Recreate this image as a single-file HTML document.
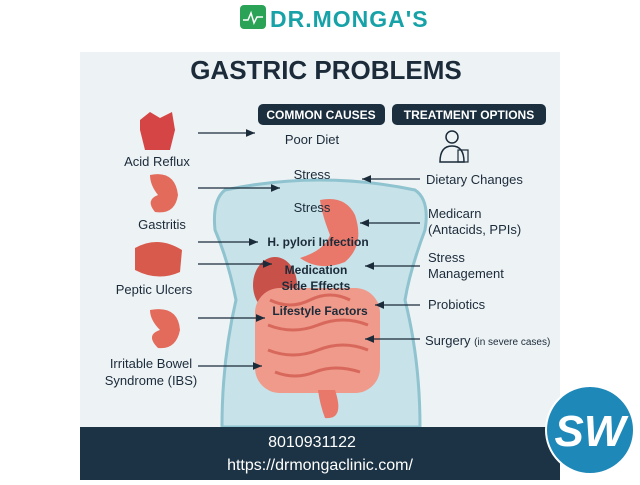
<!DOCTYPE html>
<html><head><meta charset="utf-8"><style>
body{margin:0;width:640px;height:480px;background:#fff;overflow:hidden;font-family:"Liberation Sans",sans-serif}
</style></head><body>
<svg width="640" height="480" xmlns="http://www.w3.org/2000/svg" font-family="Liberation Sans, sans-serif">
<defs><marker id="a" markerWidth="8" markerHeight="8" refX="7" refY="4" orient="auto"><path d="M0,1 L7,4 L0,7z" fill="#1b2b3a"/></marker></defs>
<rect x="240" y="5" width="26" height="24" rx="4" fill="#2aa356"/>
<path d="M243,20 l5,0 l3,-7 l3,10 l3,-6 l6,0" stroke="#fff" stroke-width="1.5" fill="none"/>
<text x="270" y="27" font-size="23" font-weight="bold" fill="#17a2a8" letter-spacing="1">DR.MONGA'S</text>
<rect x="80" y="52" width="480" height="375" fill="#edf2f4"/>
<text x="326" y="79" font-size="26" font-weight="bold" fill="#1b2b3a" text-anchor="middle">GASTRIC PROBLEMS</text>
<rect x="258" y="104" width="127" height="21" rx="5" fill="#1b2f3f"/>
<text x="321" y="119" font-size="12" font-weight="bold" fill="#fff" text-anchor="middle">COMMON CAUSES</text>
<rect x="392" y="104" width="154" height="21" rx="5" fill="#1b2f3f"/>
<text x="469" y="119" font-size="12" font-weight="bold" fill="#fff" text-anchor="middle">TREATMENT OPTIONS</text>
<path d="M225,190 Q320,170 415,190 Q430,200 425,230 Q410,270 405,300 Q420,360 420,427 L222,427 Q222,360 236,300 Q228,260 215,230 Q212,200 225,190z" fill="#c7e2e8" stroke="#8fc3cf" stroke-width="3"/>
<path d="M320,200 Q345,195 355,215 Q365,245 345,262 Q320,272 300,258 Q325,250 330,235 Q322,215 320,200z" fill="#e9786a"/>
<ellipse cx="275" cy="285" rx="22" ry="28" fill="#c8524a"/>
<rect x="255" y="288" width="125" height="105" rx="25" fill="#ef9a8a"/>
<path d="M270,300 q20,10 40,0 q20,-10 40,0 M268,325 q25,10 50,0 q25,-10 50,0 M268,350 q25,10 50,0 q25,-10 50,0 M275,372 q20,8 40,0 q20,-8 45,0" stroke="#d8685c" stroke-width="3" fill="none"/>
<path d="M335,390 Q345,420 325,418 Q320,405 318,390z" fill="#e9786a"/>
<path d="M140,120 L150,112 L160,118 L172,112 L175,130 L170,150 L145,150 L140,130z" fill="#d64545"/>
<path d="M150,175 Q175,170 178,195 Q175,215 155,212 Q145,200 158,195 Q150,185 150,175z" fill="#e36b5b"/>
<path d="M135,248 Q158,235 182,250 L180,272 Q158,282 135,270z" fill="#d85a4c"/>
<path d="M150,310 Q178,305 180,330 Q176,350 158,348 Q145,335 160,330 Q150,320 150,310z" fill="#e36b5b"/>
<g font-size="13" fill="#1b2b3a" text-anchor="middle">
<text x="157" y="166">Acid Reflux</text>
<text x="162" y="229">Gastritis</text>
<text x="154" y="294">Peptic Ulcers</text>
<text x="151" y="368">Irritable Bowel</text>
<text x="151" y="385">Syndrome (IBS)</text>
<text x="312" y="144">Poor Diet</text>
<text x="312" y="179">Stress</text>
<text x="312" y="212">Stress</text>
<text x="318" y="246" font-weight="bold" font-size="12">H. pylori Infection</text>
<text x="316" y="274" font-weight="bold" font-size="12">Medication</text>
<text x="316" y="290" font-weight="bold" font-size="12">Side Effects</text>
<text x="320" y="315" font-weight="bold" font-size="12">Lifestyle Factors</text>
</g>
<g font-size="13" fill="#1b2b3a">
<text x="426" y="184">Dietary Changes</text>
<text x="428" y="218">Medicarn</text>
<text x="428" y="234">(Antacids, PPIs)</text>
<text x="428" y="262">Stress</text>
<text x="428" y="278">Management</text>
<text x="428" y="309">Probiotics</text>
<text x="425" y="345">Surgery <tspan font-size="10">(in severe cases)</tspan></text>
</g>
<circle cx="452" cy="137" r="6" fill="none" stroke="#1b2b3a" stroke-width="1.5"/>
<path d="M440,162 Q440,146 452,146 Q464,146 464,162z" fill="none" stroke="#1b2b3a" stroke-width="1.5"/>
<rect x="458" y="150" width="10" height="12" fill="none" stroke="#1b2b3a" stroke-width="1.2"/>
<g stroke="#1b2b3a" stroke-width="1.3" marker-end="url(#a)">
<line x1="198" y1="133" x2="255" y2="133"/>
<line x1="198" y1="188" x2="280" y2="188"/>
<line x1="198" y1="242" x2="258" y2="242"/>
<line x1="198" y1="264" x2="272" y2="264"/>
<line x1="198" y1="318" x2="265" y2="318"/>
<line x1="198" y1="366" x2="262" y2="366"/>
<line x1="420" y1="179" x2="362" y2="179"/>
<line x1="420" y1="223" x2="360" y2="223"/>
<line x1="420" y1="266" x2="365" y2="266"/>
<line x1="420" y1="305" x2="375" y2="305"/>
<line x1="420" y1="339" x2="365" y2="339"/>
</g>
<rect x="80" y="427" width="480" height="53" fill="#1b3344"/>
<text x="312" y="447" font-size="16" fill="#fff" text-anchor="middle">8010931122</text>
<text x="320" y="470" font-size="16" fill="#fff" text-anchor="middle">https://drmongaclinic.com/</text>
<circle cx="590" cy="430" r="44" fill="#1e88b8" stroke="#fff" stroke-width="2"/>
<text x="590" y="446" font-size="44" font-style="italic" font-weight="bold" fill="#fff" text-anchor="middle">SW</text>
</svg>
</body></html>
